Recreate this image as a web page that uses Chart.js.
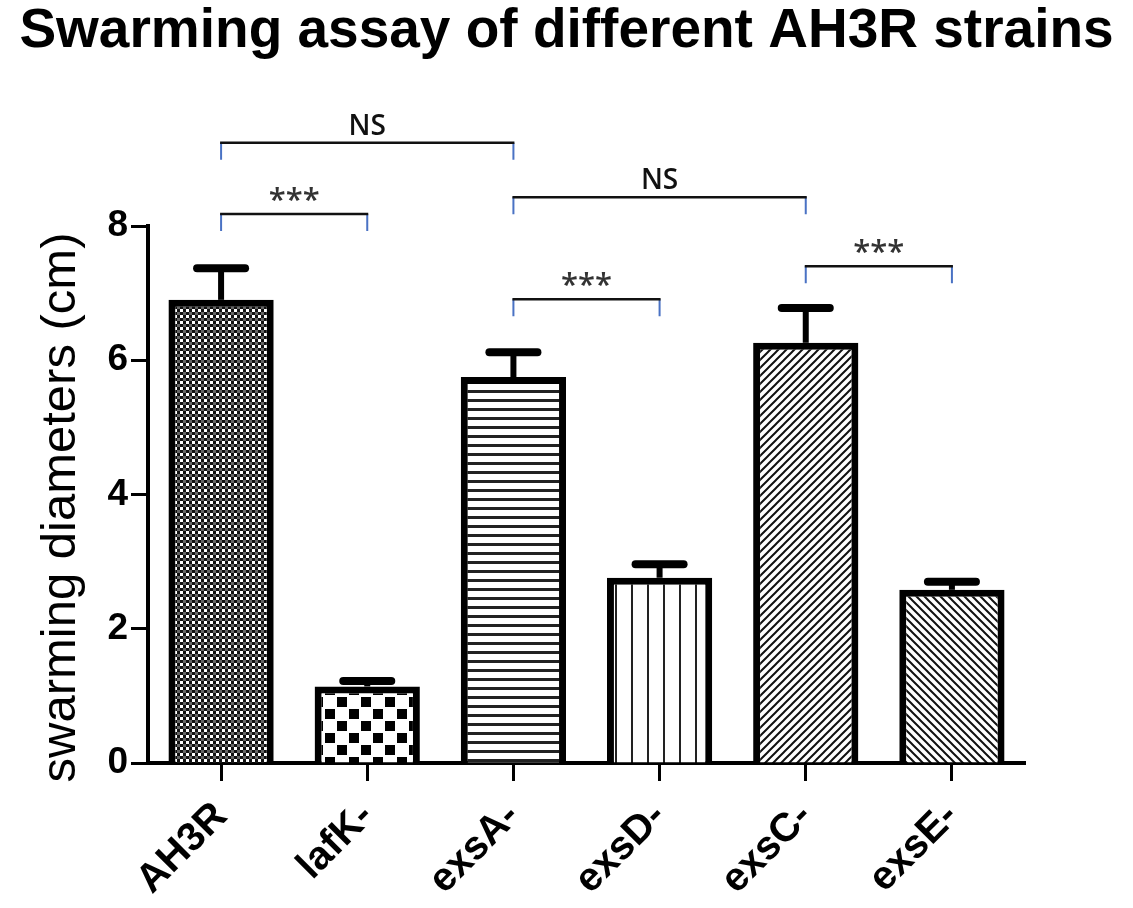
<!DOCTYPE html>
<html>
<head>
<meta charset="utf-8">
<script src="https://cdn.jsdelivr.net/npm/chart.js@4.4.1/dist/chart.umd.min.js"></script>
<style>
  html, body { margin: 0; padding: 0; background: #fff; }
  #wrap { width: 1133px; height: 908px; }
</style>
</head>
<body>
<div id="wrap"><canvas id="swarmChart" width="1133" height="908"></canvas></div>
<script>
// Data
const strains = ['AH3R', 'lafK-', 'exsA-', 'exsD-', 'exsC-', 'exsE-'];
const diameters = [6.90, 1.14, 5.75, 2.76, 6.26, 2.58];
const errors = [0.47, 0.08, 0.37, 0.20, 0.52, 0.12];
const yTicks = [0, 2, 4, 6, 8];

// Significance brackets (category index from/to, height in cm, label)
const bracketFrom = [0, 0, 2, 2, 4];
const bracketTo = [2, 1, 4, 3, 5];
const bracketLevel = [9.24, 8.18, 8.43, 6.91, 7.40];
const bracketLabel = ['NS', '***', 'NS', '***', '***'];

const chartTitle = 'Swarming assay of different AH3R strains';
const yTitle = 'swarming diameters (cm)';
const FONT = '"Liberation Sans", Arial, sans-serif';

// Fill patterns
function makePattern(size, draw) {
  const c = document.createElement('canvas');
  c.width = size; c.height = size;
  const g = c.getContext('2d');
  g.fillStyle = '#fff';
  g.fillRect(0, 0, size, size);
  draw(g, size);
  return g.createPattern(c, 'repeat');
}

const patterns = [
  // fine dotted checker
  makePattern(6, (g) => {
    g.fillStyle = '#111';
    g.fillRect(0, 0, 3, 3);
    g.fillRect(3, 3, 3, 3);
    g.fillStyle = '#666';
    g.fillRect(3, 0, 3, 3);
  }),
  // coarse checker
  makePattern(24, (g) => {
    g.fillStyle = '#000';
    g.fillRect(1, 1, 10, 10);
    g.fillRect(13, 13, 10, 10);
  }),
  // horizontal lines
  makePattern(9, (g) => {
    g.fillStyle = '#222';
    g.fillRect(0, 3, 9, 3);
  }),
  // vertical lines
  makePattern(16, (g) => {
    g.fillStyle = '#222';
    g.fillRect(7, 0, 2, 16);
  }),
  // forward diagonal
  makePattern(8, (g, s) => {
    g.strokeStyle = '#111';
    g.lineWidth = 2;
    g.beginPath();
    g.moveTo(0, s); g.lineTo(s, 0);
    g.moveTo(-2, 2); g.lineTo(2, -2);
    g.moveTo(s - 2, s + 2); g.lineTo(s + 2, s - 2);
    g.stroke();
  }),
  // backward diagonal
  makePattern(8, (g, s) => {
    g.strokeStyle = '#111';
    g.lineWidth = 2;
    g.beginPath();
    g.moveTo(0, 0); g.lineTo(s, s);
    g.moveTo(-2, s - 2); g.lineTo(2, s + 2);
    g.moveTo(s - 2, -2); g.lineTo(s + 2, 2);
    g.stroke();
  })
];

// Title and y-axis title, drawn by hand to centre them like the figure
const titlesPlugin = {
  id: 'titles',
  afterDraw(chart) {
    const ctx = chart.ctx;
    const y = chart.scales.y;
    ctx.save();
    ctx.fillStyle = '#000';
    ctx.textAlign = 'center';
    ctx.textBaseline = 'alphabetic';
    ctx.font = 'bold 100px ' + FONT;
    const size = Math.floor(100 * 1097 / ctx.measureText(chartTitle).width);
    ctx.font = 'bold ' + size + 'px ' + FONT;
    ctx.fillText(chartTitle, chart.width / 2, 47);
    ctx.translate(75, (y.top + y.bottom) / 2 + 13);
    ctx.rotate(-Math.PI / 2);
    ctx.font = '49px ' + FONT;
    ctx.fillText(yTitle, 0, 0);
    ctx.restore();
  }
};

// Error bars (upper only)
const errorBarPlugin = {
  id: 'errorBars',
  afterDatasetsDraw(chart) {
    const ctx = chart.ctx;
    const y = chart.scales.y;
    const meta = chart.getDatasetMeta(0);
    ctx.save();
    ctx.strokeStyle = '#000';
    meta.data.forEach((bar, i) => {
      const top = y.getPixelForValue(diameters[i] + errors[i]);
      ctx.lineCap = 'butt';
      ctx.lineWidth = 6;
      ctx.beginPath();
      ctx.moveTo(bar.x, bar.y);
      ctx.lineTo(bar.x, top);
      ctx.stroke();
      ctx.lineCap = 'round';
      ctx.lineWidth = 8;
      ctx.beginPath();
      ctx.moveTo(bar.x - 24, top);
      ctx.lineTo(bar.x + 24, top);
      ctx.stroke();
    });
    ctx.restore();
  }
};

// Significance brackets above the bars
const bracketPlugin = {
  id: 'brackets',
  afterDraw(chart) {
    const ctx = chart.ctx;
    const x = chart.scales.x;
    const y = chart.scales.y;
    ctx.save();
    bracketLabel.forEach((label, i) => {
      const x1 = x.getPixelForValue(bracketFrom[i]);
      const x2 = x.getPixelForValue(bracketTo[i]);
      const yy = y.getPixelForValue(bracketLevel[i]);
      ctx.strokeStyle = '#4a72c4';
      ctx.lineWidth = 2;
      ctx.beginPath();
      ctx.moveTo(x1, yy); ctx.lineTo(x1, yy + 17);
      ctx.moveTo(x2, yy); ctx.lineTo(x2, yy + 17);
      ctx.stroke();
      ctx.strokeStyle = '#111';
      ctx.lineWidth = 2.5;
      ctx.beginPath();
      ctx.moveTo(x1 - 1, yy); ctx.lineTo(x2 + 1, yy);
      ctx.stroke();
      ctx.textAlign = 'center';
      ctx.textBaseline = 'alphabetic';
      if (label === 'NS') {
        ctx.fillStyle = '#111';
        ctx.font = '600 28px "Open Sans"';
        ctx.fillText(label, (x1 + x2) / 2, yy - 8);
      } else {
        ctx.fillStyle = '#333';
        ctx.font = '600 31px "Open Sans"';
        ctx.fillText(label, (x1 + x2) / 2, yy - 4);
      }
    });
    ctx.restore();
  }
};

const ctx = document.getElementById('swarmChart').getContext('2d');
new Chart(ctx, {
  type: 'bar',
  data: {
    labels: strains,
    datasets: [{
      data: diameters,
      backgroundColor: patterns,
      borderColor: '#000',
      borderWidth: 7,
      barPercentage: 0.72,
      categoryPercentage: 1.0
    }]
  },
  options: {
    responsive: false,
    devicePixelRatio: 1,
    animation: false,
    layout: { padding: { left: 0, right: 108, top: 226, bottom: 0 } },
    plugins: {
      legend: { display: false },
      tooltip: { enabled: false },
      title: { display: false }
    },
    scales: {
      x: {
        afterFit(scale) { scale.height = 145; },
        grid: {
          display: true,
          drawOnChartArea: false,
          offset: false,
          tickLength: 18,
          tickWidth: 3,
          tickColor: '#000'
        },
        border: { display: true, color: '#000', width: 4 },
        ticks: {
          color: '#000',
          maxRotation: 45,
          minRotation: 45,
          padding: 12,
          font: { family: FONT, size: 40, weight: 'bold' }
        }
      },
      y: {
        min: 0,
        max: 8,
        afterFit(scale) { scale.width = 148; },
        afterBuildTicks(scale) { scale.ticks = yTicks.map(v => ({ value: v })); },
        grid: {
          display: true,
          drawOnChartArea: false,
          tickLength: 17,
          tickWidth: 3,
          tickColor: '#000'
        },
        border: { display: true, color: '#000', width: 4 },
        ticks: {
          color: '#000',
          padding: 3,
          font: { family: FONT, size: 37, weight: 'bold' }
        }
      }
    }
  },
  plugins: [errorBarPlugin, bracketPlugin, titlesPlugin]
});
</script>
</body>
</html>
